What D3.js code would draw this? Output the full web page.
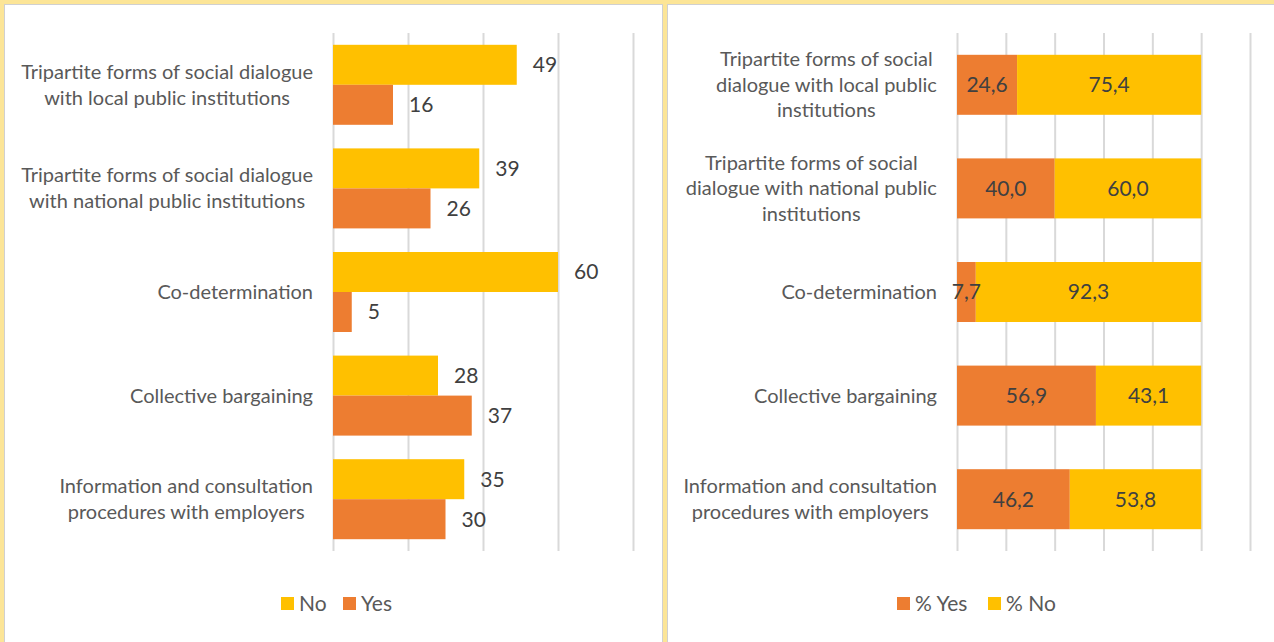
<!DOCTYPE html>
<html>
<head>
<meta charset="utf-8">
<script src="https://cdn.jsdelivr.net/npm/d3@7"></script>
<style>
  html, body { margin: 0; padding: 0; background: #ffffff; }
  svg { display: block; }
  text { font-family: Lato, "Open Sans", sans-serif; }
</style>
</head>
<body>
<svg id="chart" width="1274" height="642"></svg>
<script>
// Categories (top to bottom)
const categories = [
  "Tripartite forms of social dialogue with local public institutions",
  "Tripartite forms of social dialogue with national public institutions",
  "Co-determination",
  "Collective bargaining",
  "Information and consultation procedures with employers"
];
// Line breaks used for the category labels of each panel
const leftLabelLines = [
  ["Tripartite forms of social dialogue", "with local public institutions"],
  ["Tripartite forms of social dialogue", "with national public institutions"],
  ["Co-determination"],
  ["Collective bargaining"],
  ["Information and consultation", "procedures with employers"]
];
const rightLabelLines = [
  ["Tripartite forms of social", "dialogue with local public", "institutions"],
  ["Tripartite forms of social", "dialogue with national public", "institutions"],
  ["Co-determination"],
  ["Collective bargaining"],
  ["Information and consultation", "procedures with employers"]
];

// Counts
const noCounts  = [49, 39, 60, 28, 35];
const yesCounts = [16, 26, 5, 37, 30];
const countTicks = [0, 20, 40, 60, 80];

// Shares (%)
const pctYes = [24.6, 40.0, 7.7, 56.9, 46.2];
const pctNo  = [75.4, 60.0, 92.3, 43.1, 53.8];
const pctTicks = [0, 20, 40, 60, 80, 100, 120];

const YELLOW = "#FFC000", ORANGE = "#ED7D31";
const GRID = "#D9D9D9", LABEL = "#595959", VALUE = "#404040";
const CAT_FS = "20px", VAL_FS = "21px", LEG_FS = "21px";
const fmtComma = d => d.toFixed(1).replace(".", ",");

const svg = d3.select("#chart");

// Frame: pale yellow backdrop with two white chart panels
svg.append("rect").attr("width", 1274).attr("height", 642).attr("fill", "#FCE597");
svg.append("rect").attr("x", 4.5).attr("y", 4.5).attr("width", 658).attr("height", 660)
  .attr("fill", "#fff").attr("stroke", "#D0D0D0");
svg.append("rect").attr("x", 667.5).attr("y", 4.5).attr("width", 620).attr("height", 660)
  .attr("fill", "#fff").attr("stroke", "#D0D0D0");

const plotTop = 33, plotBottom = 551;

// Multi-line category labels: lines centered on each other, block right-aligned
function drawLabels(g, y, lines, rightX, lh) {
  categories.forEach((c, i) => {
    const ls = lines[i];
    const cy = y(c) + y.bandwidth() / 2;
    const t = g.append("text")
      .attr("text-anchor", "middle")
      .attr("fill", LABEL)
      .style("font-size", CAT_FS);
    ls.forEach((s, k) => {
      t.append("tspan").text(s)
        .attr("x", 0)
        .attr("y", cy + (k - (ls.length - 1) / 2) * lh)
        .attr("dy", "0.35em");
    });
    const w = t.node().getBBox().width;
    t.selectAll("tspan").attr("x", rightX - w / 2);
  });
}

function drawGrid(g, x, ticks) {
  g.append("g")
    .attr("transform", `translate(0,${plotBottom})`)
    .call(d3.axisBottom(x).tickValues(ticks).tickSize(-(plotBottom - plotTop)).tickFormat(""))
    .call(a => a.select(".domain").remove())
    .call(a => a.selectAll(".tick line").attr("stroke", GRID).attr("stroke-width", 2));
}

function legend(g, items) {
  items.forEach(([rx, tx, color, label]) => {
    g.append("rect").attr("x", rx).attr("y", 597).attr("width", 13).attr("height", 13).attr("fill", color);
    g.append("text").attr("x", tx).attr("y", 604).attr("dy", "0.35em").attr("fill", LABEL)
      .style("font-size", LEG_FS).text(label);
  });
}

// ---- Left panel: counts ----
{
  const x = d3.scaleLinear().domain([0, 80]).range([333, 633]);
  const y = d3.scaleBand().domain(categories).range([plotTop, plotBottom]);
  const g = svg.append("g");
  drawGrid(g, x, countTicks);
  const bh = 40;
  const offNo = y.bandwidth() / 2 - bh, offYes = y.bandwidth() / 2;

  g.selectAll("rect.no").data(categories).join("rect")
    .attr("x", x(0)).attr("y", (c) => y(c) + offNo)
    .attr("width", (c, i) => x(noCounts[i]) - x(0)).attr("height", bh)
    .attr("fill", YELLOW);
  g.selectAll("rect.yes").data(categories).join("rect")
    .attr("x", x(0)).attr("y", (c) => y(c) + offYes)
    .attr("width", (c, i) => x(yesCounts[i]) - x(0)).attr("height", bh)
    .attr("fill", ORANGE);

  g.selectAll("text.nov").data(categories).join("text")
    .attr("x", (c, i) => x(noCounts[i]) + 16).attr("y", c => y(c) + offNo + bh / 2)
    .attr("dy", "0.35em").attr("fill", VALUE).style("font-size", VAL_FS)
    .text((c, i) => noCounts[i]);
  g.selectAll("text.yesv").data(categories).join("text")
    .attr("x", (c, i) => x(yesCounts[i]) + 16).attr("y", c => y(c) + offYes + bh / 2)
    .attr("dy", "0.35em").attr("fill", VALUE).style("font-size", VAL_FS)
    .text((c, i) => yesCounts[i]);

  drawLabels(g, y, leftLabelLines, 313, 26);

  legend(g, [[281, 299, YELLOW, "No"], [343, 361, ORANGE, "Yes"]]);
}

// ---- Right panel: shares ----
{
  const x = d3.scaleLinear().domain([0, 120]).range([957, 1250]);
  const y = d3.scaleBand().domain(categories).range([plotTop, plotBottom]);
  const g = svg.append("g");
  drawGrid(g, x, pctTicks);
  const bh = 60;
  const off = (y.bandwidth() - bh) / 2;

  g.selectAll("rect.py").data(categories).join("rect")
    .attr("x", x(0)).attr("y", c => y(c) + off)
    .attr("width", (c, i) => x(pctYes[i]) - x(0)).attr("height", bh)
    .attr("fill", ORANGE);
  g.selectAll("rect.pn").data(categories).join("rect")
    .attr("x", (c, i) => x(pctYes[i])).attr("y", c => y(c) + off)
    .attr("width", (c, i) => x(pctYes[i] + pctNo[i]) - x(pctYes[i])).attr("height", bh)
    .attr("fill", YELLOW);

  g.selectAll("text.pyv").data(categories).join("text")
    .attr("x", (c, i) => (x(0) + x(pctYes[i])) / 2).attr("y", c => y(c) + y.bandwidth() / 2)
    .attr("dy", "0.35em").attr("text-anchor", "middle").attr("fill", VALUE).style("font-size", VAL_FS)
    .text((c, i) => fmtComma(pctYes[i]));
  g.selectAll("text.pnv").data(categories).join("text")
    .attr("x", (c, i) => (x(pctYes[i]) + x(pctYes[i] + pctNo[i])) / 2).attr("y", c => y(c) + y.bandwidth() / 2)
    .attr("dy", "0.35em").attr("text-anchor", "middle").attr("fill", VALUE).style("font-size", VAL_FS)
    .text((c, i) => fmtComma(pctNo[i]));

  drawLabels(g, y, rightLabelLines, 937, 25.5);

  legend(g, [[897, 915, ORANGE, "% Yes"], [988, 1006, YELLOW, "% No"]]);
}
</script>
</body>
</html>
